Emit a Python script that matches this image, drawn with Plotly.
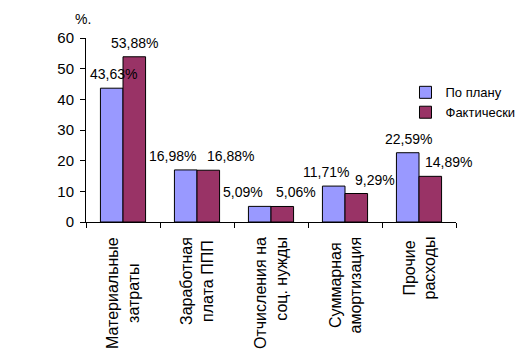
import plotly.graph_objects as go

categories = ["Материальные<br>затраты", "Заработная<br>плата ППП", "Отчисления на<br>соц. нужды",
              "Суммарная<br>амортизация", "Прочие<br>расходы"]
plan = [43.63, 16.98, 5.09, 11.71, 22.59]
fact = [53.88, 16.88, 5.06, 9.29, 14.89]
plan_labels = ["43,63%", "16,98%", "5,09%", "11,71%", "22,59%"]
fact_labels = ["53,88%", "16,88%", "5,06%", "9,29%", "14,89%"]
y_ticks = [0, 10, 20, 30, 40, 50, 60]

# label pixel offsets from group centre (style, not data)
plan_dx = [-10, -25, -28, -19, -11]
fact_dx = [11, 33, 25, 30, 29]
cat_align = ["center", "center", "right", "center", "center"]

FONT = "Liberation Sans, Arial, sans-serif"
BLUE = "#9999FF"
RED = "#993366"

# page body has an 8px margin in the browser; keep the figure inside the window
W, H = 513, 341
L, T, PW, PH = 78, 30, 369.6, 184

fig = go.Figure()
fig.add_trace(go.Bar(x=categories, y=plan, name="По плану",
                     marker=dict(color=BLUE, line=dict(color="black", width=1))))
fig.add_trace(go.Bar(x=categories, y=fact, name="Фактически",
                     marker=dict(color=RED, line=dict(color="black", width=1))))

annotations = []
for c, v, t, dx in zip(categories, plan, plan_labels, plan_dx):
    annotations.append(dict(x=c, y=v, xref="x", yref="y", text=t, showarrow=False,
                            xanchor="center", yanchor="bottom", xshift=dx, yshift=4,
                            font=dict(family=FONT, size=14, color="black")))
for c, v, t, dx in zip(categories, fact, fact_labels, fact_dx):
    annotations.append(dict(x=c, y=v, xref="x", yref="y", text=t, showarrow=False,
                            xanchor="center", yanchor="bottom", xshift=dx, yshift=4,
                            font=dict(family=FONT, size=14, color="black")))
for c, al in zip(categories, cat_align):
    annotations.append(dict(x=c, y=0, xref="x", yref="paper", text=c, showarrow=False,
                            textangle=-90, align=al, xanchor="center", yanchor="top",
                            yshift=-13, font=dict(family=FONT, size=16, color="black")))
annotations.append(dict(x=(83 - 86) / PW, y=(222 - 19) / PH, xref="paper", yref="paper",
                        text="%.", showarrow=False, xanchor="center", yanchor="middle",
                        font=dict(family=FONT, size=14, color="black")))

fig.update_layout(
    width=W, height=H,
    margin=dict(l=L, r=W - L - PW, t=T, b=H - T - PH, pad=0, autoexpand=False),
    paper_bgcolor="white", plot_bgcolor="white",
    barmode="group", bargap=0.39, bargroupgap=0,
    font=dict(family=FONT, size=14, color="black"),
    showlegend=True,
    legend=dict(x=0.8635, y=0.786, xanchor="left", yanchor="top",
                font=dict(family=FONT, size=13, color="black"),
                bgcolor="rgba(0,0,0,0)", itemwidth=30, tracegroupgap=0),
    annotations=annotations,
    xaxis=dict(range=[-0.5, len(categories) - 0.5], autorange=False,
               showticklabels=False, showline=True, linecolor="black", linewidth=1,
               ticks="outside", tickson="boundaries", ticklen=5, tickcolor="black",
               showgrid=False, zeroline=False),
    yaxis=dict(range=[0, 60], autorange=False, tickvals=y_ticks, showline=True,
               linecolor="black", linewidth=1, ticks="outside", ticklen=5, tickcolor="black",
               showgrid=False, zeroline=False, ticklabelstandoff=3,
               tickfont=dict(family=FONT, size=15, color="black")),
)

fig.write_html("out.html")
